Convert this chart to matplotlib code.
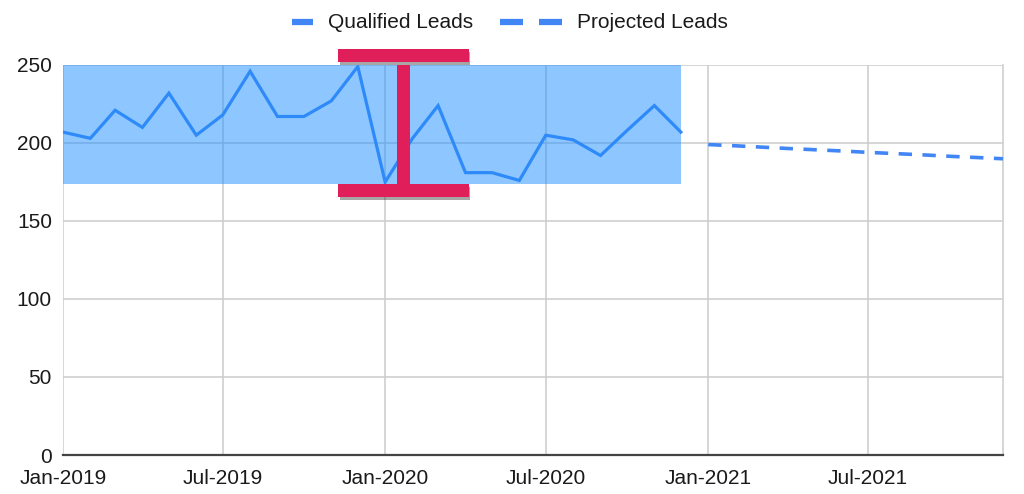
"""Qualified leads with projection and highlighted range."""
import numpy as np
import pandas as pd
import matplotlib
matplotlib.use('Agg')
import matplotlib.pyplot as plt
import matplotlib.dates as mdates
import matplotlib.patheffects as pe
from matplotlib.lines import Line2D
from matplotlib.patches import Rectangle

plt.rcParams['font.family'] = ['Liberation Sans', 'DejaVu Sans']

# data
actual_months = pd.date_range('2019-01-01', '2020-12-01', freq='MS')
qualified_leads = [207, 203, 221, 210, 232, 205, 218, 246, 217, 217, 227, 249,
                   175, 203, 224, 181, 181, 176, 205, 202, 192, 208, 224, 207]
projected_months = pd.date_range('2021-01-01', '2021-12-01', freq='MS')
projected_leads = [199, 198.2, 197.4, 196.5, 195.7, 194.9,
                   194.0, 193.2, 192.4, 191.5, 190.7, 189.9]
band_low = 174
band_high = 250
series_names = ['Qualified Leads', 'Projected Leads']

LINE_BLUE = '#4285F4'
BAND_BLUE = '#1E90FF'
BEAM_RED = '#E01F5A'
GRID = '#CCCCCC'
TEXT = '#1A1A1A'
W, H = 1024, 494

fig = plt.figure(figsize=(W / 100, H / 100), dpi=100)
ax = fig.add_axes([63 / W, 1 - 455 / H, (1003 - 63) / W, (455 - 65) / H])

ax.plot(actual_months, qualified_leads, color=LINE_BLUE, lw=2.3, zorder=3,
        solid_joinstyle='miter')
ax.plot(projected_months, projected_leads, color=LINE_BLUE, lw=2.6,
        dashes=(3.7, 2.9), zorder=3)

# highlighted range over the actuals
x0 = mdates.date2num(actual_months[0])
x1 = mdates.date2num(actual_months[-1])
ax.add_patch(Rectangle((x0, band_low), x1 - x0, band_high - band_low,
                       facecolor=BAND_BLUE, alpha=0.5, lw=0, zorder=4))

# I-beam marker showing the range
mid = mdates.date2num(pd.Timestamp('2020-01-22'))
cap_half = 74
stem_half = 7.5
cap_h = 8.5
shadow = [pe.withSimplePatchShadow(offset=(1, -2.5), shadow_rgbFace='k', alpha=0.35)]
beam_parts = [
    (Rectangle((mid - stem_half, band_low), 2 * stem_half, band_high - band_low), False),
    (Rectangle((mid - cap_half, band_high + 2), 2 * cap_half, cap_h), True),
    (Rectangle((mid - cap_half, band_low - cap_h), 2 * cap_half, cap_h), True),
]
for part, has_shadow in beam_parts:
    part.set_facecolor(BEAM_RED)
    part.set_linewidth(0)
    part.set_zorder(6)
    part.set_clip_on(False)
    if has_shadow:
        part.set_path_effects(shadow)
    ax.add_patch(part)

ax.set_xlim(mdates.date2num(pd.Timestamp('2019-01-01')),
            mdates.date2num(projected_months[-1]))
ax.set_ylim(0, 250)
ax.set_yticks(np.arange(0, 251, 50))
ax.xaxis.set_major_locator(mdates.MonthLocator(bymonth=[1, 7]))
ax.xaxis.set_major_formatter(mdates.DateFormatter('%b-%Y'))
ax.grid(True, color=GRID, lw=1.1, zorder=0)
ax.set_axisbelow(True)
ax.tick_params(length=0, labelsize=15, labelcolor=TEXT)
ax.tick_params(axis='x', pad=10)
ax.tick_params(axis='y', pad=8)
for side in ['top', 'left']:
    ax.spines[side].set_visible(False)
ax.spines['right'].set_color(GRID)
ax.spines['right'].set_linewidth(1.1)
ax.spines['bottom'].set_color('#444444')
ax.spines['bottom'].set_linewidth(1.6)
ax.spines['bottom'].set_zorder(5)

# legend drawn by hand so each handle keeps its own length
ly = 1 - 22 / H
fig.add_artist(Line2D([292 / W, 313 / W], [ly, ly], color=LINE_BLUE, lw=4.5,
                      solid_capstyle='butt', transform=fig.transFigure))
fig.text(328 / W, ly, series_names[0], fontsize=15, color=TEXT, va='center')
for a, b in [(500, 523), (539, 562)]:
    fig.add_artist(Line2D([a / W, b / W], [ly, ly], color=LINE_BLUE, lw=4.5,
                          solid_capstyle='butt', transform=fig.transFigure))
fig.text(577 / W, ly, series_names[1], fontsize=15, color=TEXT, va='center')

fig.savefig('out.png', dpi=100)
